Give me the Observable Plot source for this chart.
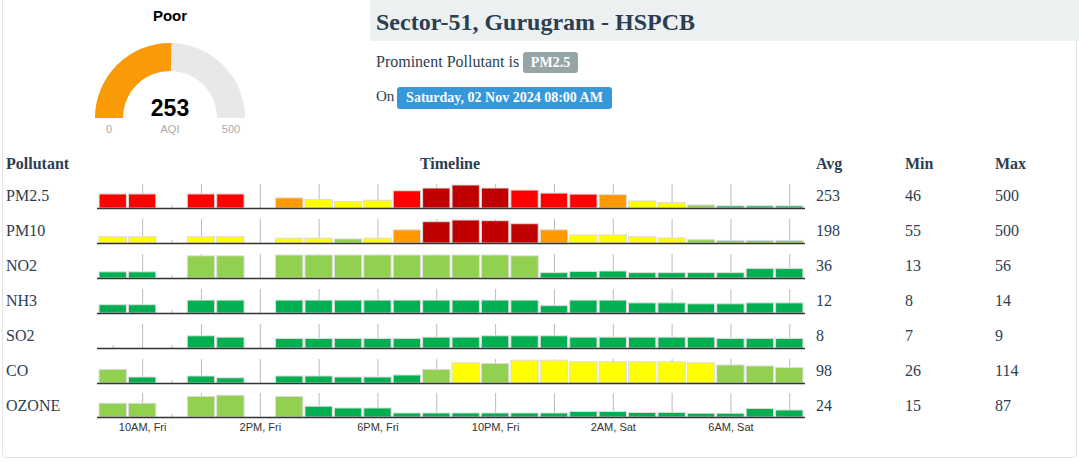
<!DOCTYPE html>
<html>
<head>
<meta charset="utf-8">
<script src="https://cdn.jsdelivr.net/npm/d3@7"></script>
<script src="https://cdn.jsdelivr.net/npm/@observablehq/plot@0.6"></script>
<style>
  html, body { margin: 0; padding: 0; background: #fff; }
  body { width: 1079px; height: 462px; overflow: hidden; position: relative; font-family: "Liberation Serif", "Times New Roman", serif; color: #2c3e50; }
  .abs { position: absolute; white-space: nowrap; }
  #frame { left: 2px; top: -6px; width: 1075px; height: 464px; border: 1px solid #e4e4e4; border-radius: 4px; box-sizing: border-box; }
  #band { left: 370px; top: 0; width: 709px; height: 41px; background: #ecf0f1; }
  #title { left: 376px; top: 10px; font-size: 24px; line-height: 24px; font-weight: bold; color: #2c3e50; }
  .badge { color: #fff; font-weight: bold; font-size: 14px; text-align: center; border-radius: 3px; }
</style>
</head>
<body>
<div id="frame" class="abs"></div>
<div id="band" class="abs"></div>
<div id="title" class="abs"></div>
<div id="gauge" class="abs" style="left:0;top:0;"></div>
<script>
// ---------------- data ----------------
const stationName = "Sector-51, Gurugram - HSPCB";
const aqiValue = 253;
const aqiCategory = "Poor";
const gaugeMin = 0;
const gaugeMax = 500;
const prominentPollutant = "PM2.5";
const readingTime = "Saturday, 02 Nov 2024 08:00 AM";

const headers = ["Pollutant", "Timeline", "Avg", "Min", "Max"];
const pollutants = ["PM2.5", "PM10", "NO2", "NH3", "SO2", "CO", "OZONE"];
const avgVals = [253, 198, 36, 12, 8, 98, 24];
const minVals = [46, 55, 13, 8, 7, 26, 15];
const maxVals = [500, 500, 56, 14, 9, 114, 87];

const hours = ["9AM, Fri", "10AM, Fri", "11AM, Fri", "12PM, Fri", "1PM, Fri", "2PM, Fri",
  "3PM, Fri", "4PM, Fri", "5PM, Fri", "6PM, Fri", "7PM, Fri", "8PM, Fri",
  "9PM, Fri", "10PM, Fri", "11PM, Fri", "12AM, Sat", "1AM, Sat", "2AM, Sat",
  "3AM, Sat", "4AM, Sat", "5AM, Sat", "6AM, Sat", "7AM, Sat", "8AM, Sat"];
const tickLabels = ["10AM, Fri", "2PM, Fri", "6PM, Fri", "10PM, Fri", "2AM, Sat", "6AM, Sat"];

const pm25  = [305, 305, null, 305, 305, null, 220, 183, 139, 170, 375, 434, 500, 434, 390, 324, 302, 290, 154, 117, 66, 46, 46, 46];
const pm10  = [139, 139, null, 139, 139, null, 105, 105, 88, 105, 286, 463, 500, 485, 419, 286, 176, 176, 139, 110, 73, 55, 55, 55];
const no2   = [15, 15, null, 54, 54, null, 56, 56, 56, 56, 56, 56, 56, 56, 54, 13, 16, 17, 13, 13, 13, 13, 23, 23];
const nh3   = [9, 9, null, 14, 14, null, 14, 14, 14, 14, 14, 14, 14, 14, 14, 8, 14, 14, 11, 11, 10, 10, 11, 11];
const so2   = [null, null, null, 9, 8, null, 7, 7, 7, 7, 7, 8, 8, 9, 9, 9, 8, 8, 8, 8, 8, 7, 7, 7];
const co    = [68, 30, null, 35, 26, null, 35, 35, 30, 30, 40, 68, 101, 98, 114, 114, 106, 106, 106, 106, 101, 90, 85, 77];
const ozone = [55, 55, null, 82, 87, null, 82, 43, 36, 36, 16, 16, 16, 16, 16, 16, 22, 22, 18, 18, 15, 15, 34, 28];
const series = [pm25, pm10, no2, nh3, so2, co, ozone];

// y-scale upper limit of each row's timeline
const scaleMax = [500, 500, 56, 25, 17, 115, 92];

// AQI category scale
const aqiBreaks = [51, 101, 201, 301, 401];
const aqiColors = ["#00b050", "#92d050", "#ffff00", "#ff9900", "#ff0000", "#c00000"];

// ---------------- layout helpers ----------------
const SERIF = "'Liberation Serif', 'Times New Roman', serif";
const SANS = "'Liberation Sans', Arial, Helvetica, sans-serif";
function placeText(text, left, baseline, size, opts = {}) {
  const d = document.createElement("div");
  d.className = "abs";
  d.textContent = text;
  d.style.left = left + "px";
  d.style.top = (baseline - 0.8375 * size) + "px";
  d.style.fontSize = size + "px";
  d.style.lineHeight = size + "px";
  d.style.fontFamily = SERIF;
  if (opts.bold) d.style.fontWeight = "bold";
  if (opts.center) { d.style.transform = "translateX(-50%)"; }
  d.style.color = opts.color || "#2c3e50";
  document.body.appendChild(d);
  return d;
}
function badge(text, left, top, width, height, bg) {
  const d = document.createElement("div");
  d.className = "abs badge";
  d.textContent = text;
  Object.assign(d.style, {left: left + "px", top: top + "px", width: width + "px", height: height + "px",
    lineHeight: height + "px", background: bg, fontFamily: SERIF});
  document.body.appendChild(d);
}

// ---------------- header ----------------
document.getElementById("title").textContent = stationName;
placeText("Prominent Pollutant is", 376, 67, 16);
badge(prominentPollutant, 523, 52, 55, 21, "#95a5a6");
placeText("On", 376, 102, 15);
badge(readingTime, 397, 87, 215, 22, "#3498db");

// ---------------- gauge ----------------
const gaugeMark = () => {
  const g = d3.create("svg:g");
  const cx = 170, cy = 118, r0 = 47, r1 = 75;
  const angle = d3.scaleLinear([gaugeMin, gaugeMax], [-Math.PI / 2, Math.PI / 2]);
  const arc = d3.arc().innerRadius(r0).outerRadius(r1);
  const gg = g.append("g").attr("transform", `translate(${cx},${cy})`);
  gg.append("path").attr("d", arc({startAngle: angle(gaugeMin), endAngle: angle(gaugeMax)})).attr("fill", "#e8e8e8");
  gg.append("path").attr("d", arc({startAngle: angle(gaugeMin), endAngle: angle(aqiValue)})).attr("fill", "#f99b06");
  const t = (txt, x, y, size, weight, fill) => g.append("text").attr("x", x).attr("y", y)
    .attr("text-anchor", "middle").attr("font-family", SANS).attr("font-size", size)
    .attr("font-weight", weight).attr("fill", fill).text(txt);
  t(aqiCategory, cx, 21, 15, "bold", "#000");
  t(aqiValue, cx, 116, 23, "bold", "#000");
  t(gaugeMin, cx - (r0 + r1) / 2, 133, 11, "normal", "#aaa");
  t("AQI", cx, 133, 11, "normal", "#aaa");
  t(gaugeMax, cx + (r0 + r1) / 2, 133, 11, "normal", "#aaa");
  return g.node();
};
document.getElementById("gauge").appendChild(Plot.plot({
  width: 340, height: 140, margin: 0,
  style: {background: "transparent"},
  marks: [gaugeMark]
}));

// ---------------- table ----------------
const colX = [6, 450, 816, 905, 995];
placeText(headers[0], colX[0], 169, 16, {bold: true});
placeText(headers[1], colX[1], 169, 16, {bold: true, center: true});
placeText(headers[2], colX[2], 169, 16, {bold: true});
placeText(headers[3], colX[3], 169, 16, {bold: true});
placeText(headers[4], colX[4], 169, 16, {bold: true});

pollutants.forEach((name, i) => {
  const base = 201 + 35 * i;
  placeText(name, colX[0], base, 16);
  placeText(String(avgVals[i]), colX[2], base, 16);
  placeText(String(minVals[i]), colX[3], base, 16);
  placeText(String(maxVals[i]), colX[4], base, 16);

  const last = i === pollutants.length - 1;
  const rowData = hours.map((h, j) => ({hour: h, value: series[i][j]}));
  const chart = Plot.plot({
    width: 725,
    height: last ? 62 : 37,
    marginLeft: 7, marginRight: 10, marginTop: 12, marginBottom: last ? 27 : 2,
    x: {type: "band", domain: hours, padding: 0.07, round: false, axis: last ? "bottom" : null,
        tickSize: 0, tickPadding: 6, label: null,
        tickFormat: d => tickLabels.includes(d) ? d : ""},
    y: {domain: [0, scaleMax[i]], axis: null},
    color: {type: "threshold", domain: aqiBreaks, range: aqiColors},
    style: {fontFamily: SANS, fontSize: "11px", color: "#333", background: "transparent", overflow: "visible"},
    marks: [
      Plot.ruleX(hours.filter((d, j) => j % 2 === 1), {stroke: "#bbb", strokeWidth: 1, insetTop: -1}),
      Plot.ruleX(hours.filter((d, j) => j % 2 === 0), {stroke: "#bbb", strokeWidth: 1, insetTop: 20}),
      Plot.barY(rowData, {x: "hour", y: "value", fill: "value", stroke: "#dcdcdc", strokeWidth: 1}),
      Plot.ruleY([0], {stroke: "#333", strokeWidth: 1.5})
    ]
  });
  const holder = document.createElement("div");
  holder.className = "abs";
  holder.style.left = "90px";
  holder.style.top = (173 + 35 * i - (last ? 1 : 0)) + "px";
  holder.appendChild(chart);
  document.body.appendChild(holder);
});
</script>
</body>
</html>
